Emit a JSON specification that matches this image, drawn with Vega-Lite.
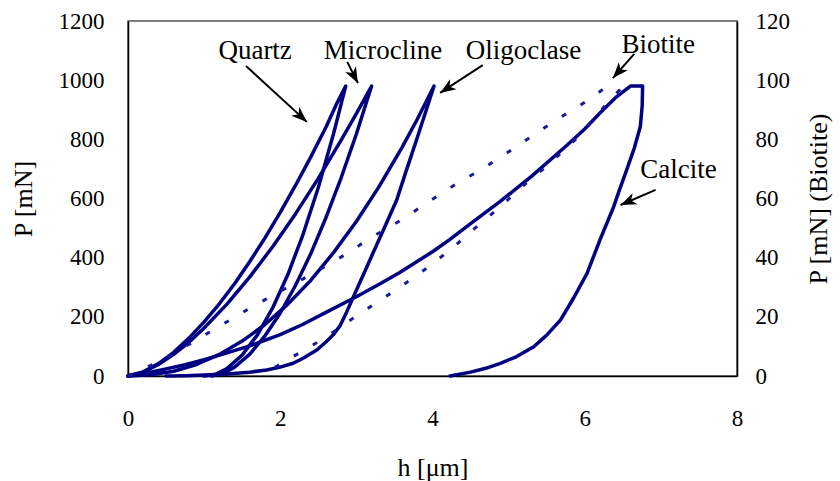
{
  "$schema": "https://vega.github.io/schema/vega-lite/v6.json",
  "width": 609,
  "height": 355,
  "autosize": {"type": "none"},
  "padding": {"left": 128, "top": 21, "right": 103, "bottom": 105},
  "background": "white",
  "config": {
    "font": "Liberation Serif",
    "view": {"stroke": "#555", "strokeWidth": 1.5},
    "axis": {
      "grid": false, "ticks": false, "domainColor": "#000", "domainWidth": 1.5,
      "labelFont": "Liberation Serif", "labelFontSize": 23, "labelColor": "#000",
      "titleFont": "Liberation Serif", "titleFontSize": 26, "titleFontWeight": "normal", "titleColor": "#000",
      "labelFlush": false, "labelOverlap": false, "format": "d"
    }
  },
  "datasets": {
    "curves": [
      {"s":"Quartz","i":0,"h":0,"P":0},{"s":"Quartz","i":1,"h":0.2,"P":14},{"s":"Quartz","i":2,"h":0.4,"P":42},{"s":"Quartz","i":3,"h":0.6,"P":80},{"s":"Quartz","i":4,"h":0.8,"P":128},{"s":"Quartz","i":5,"h":1.0,"P":183},{"s":"Quartz","i":6,"h":1.2,"P":244},{"s":"Quartz","i":7,"h":1.4,"P":312},{"s":"Quartz","i":8,"h":1.6,"P":387},{"s":"Quartz","i":9,"h":1.8,"P":467},{"s":"Quartz","i":10,"h":2.0,"P":553},{"s":"Quartz","i":11,"h":2.2,"P":644},{"s":"Quartz","i":12,"h":2.4,"P":740},{"s":"Quartz","i":13,"h":2.6,"P":841},{"s":"Quartz","i":14,"h":2.75,"P":925},{"s":"Quartz","i":15,"h":2.86,"P":980},
      {"s":"Quartz","i":16,"h":2.7,"P":819},{"s":"Quartz","i":17,"h":2.5,"P":637},{"s":"Quartz","i":18,"h":2.3,"P":479},{"s":"Quartz","i":19,"h":2.1,"P":343},{"s":"Quartz","i":20,"h":1.9,"P":230},{"s":"Quartz","i":21,"h":1.7,"P":139},{"s":"Quartz","i":22,"h":1.5,"P":71},{"s":"Quartz","i":23,"h":1.3,"P":25},{"s":"Quartz","i":24,"h":1.15,"P":6},{"s":"Quartz","i":25,"h":1.0,"P":0},
      {"s":"Microcline","i":0,"h":0,"P":0},{"s":"Microcline","i":1,"h":0.2,"P":13},{"s":"Microcline","i":2,"h":0.4,"P":39},{"s":"Microcline","i":3,"h":0.6,"P":73},{"s":"Microcline","i":4,"h":0.8,"P":114},{"s":"Microcline","i":5,"h":1.0,"P":162},{"s":"Microcline","i":6,"h":1.3,"P":243},{"s":"Microcline","i":7,"h":1.6,"P":335},{"s":"Microcline","i":8,"h":1.9,"P":437},{"s":"Microcline","i":9,"h":2.2,"P":548},{"s":"Microcline","i":10,"h":2.5,"P":668},{"s":"Microcline","i":11,"h":2.8,"P":797},{"s":"Microcline","i":12,"h":3.0,"P":887},{"s":"Microcline","i":13,"h":3.2,"P":980},
      {"s":"Microcline","i":14,"h":3.0,"P":818},{"s":"Microcline","i":15,"h":2.8,"P":670},{"s":"Microcline","i":16,"h":2.6,"P":535},{"s":"Microcline","i":17,"h":2.4,"P":413},{"s":"Microcline","i":18,"h":2.2,"P":306},{"s":"Microcline","i":19,"h":2.0,"P":213},{"s":"Microcline","i":20,"h":1.8,"P":136},{"s":"Microcline","i":21,"h":1.6,"P":74},{"s":"Microcline","i":22,"h":1.4,"P":30},{"s":"Microcline","i":23,"h":1.25,"P":9},{"s":"Microcline","i":24,"h":1.1,"P":0},
      {"s":"Oligoclase","i":0,"h":0,"P":0},{"s":"Oligoclase","i":1,"h":0.3,"P":4},{"s":"Oligoclase","i":2,"h":0.6,"P":16},{"s":"Oligoclase","i":3,"h":0.9,"P":39},{"s":"Oligoclase","i":4,"h":1.2,"P":73},{"s":"Oligoclase","i":5,"h":1.5,"P":118},{"s":"Oligoclase","i":6,"h":1.8,"P":174},{"s":"Oligoclase","i":7,"h":2.1,"P":243},{"s":"Oligoclase","i":8,"h":2.4,"P":323},{"s":"Oligoclase","i":9,"h":2.7,"P":417},{"s":"Oligoclase","i":10,"h":3.0,"P":522},{"s":"Oligoclase","i":11,"h":3.3,"P":641},{"s":"Oligoclase","i":12,"h":3.6,"P":773},{"s":"Oligoclase","i":13,"h":3.8,"P":868},{"s":"Oligoclase","i":14,"h":4.02,"P":980},
      {"s":"Oligoclase","i":15,"h":3.9,"P":885},{"s":"Oligoclase","i":16,"h":3.78,"P":790},{"s":"Oligoclase","i":17,"h":3.65,"P":690},{"s":"Oligoclase","i":18,"h":3.53,"P":595},{"s":"Oligoclase","i":19,"h":3.4,"P":520},{"s":"Oligoclase","i":20,"h":3.2,"P":405},{"s":"Oligoclase","i":21,"h":3.0,"P":290},{"s":"Oligoclase","i":22,"h":2.87,"P":215},{"s":"Oligoclase","i":23,"h":2.79,"P":172},{"s":"Oligoclase","i":24,"h":2.7,"P":140},{"s":"Oligoclase","i":25,"h":2.6,"P":115},{"s":"Oligoclase","i":26,"h":2.48,"P":88},{"s":"Oligoclase","i":27,"h":2.3,"P":60},{"s":"Oligoclase","i":28,"h":2.17,"P":43},{"s":"Oligoclase","i":29,"h":2.0,"P":30},{"s":"Oligoclase","i":30,"h":1.82,"P":20},{"s":"Oligoclase","i":31,"h":1.6,"P":13},{"s":"Oligoclase","i":32,"h":1.3,"P":7},{"s":"Oligoclase","i":33,"h":1.0,"P":3},{"s":"Oligoclase","i":34,"h":0.75,"P":1},{"s":"Oligoclase","i":35,"h":0.5,"P":0},
      {"s":"Calcite","i":0,"h":0,"P":0},{"s":"Calcite","i":1,"h":0.25,"P":10},{"s":"Calcite","i":2,"h":0.5,"P":24},{"s":"Calcite","i":3,"h":0.75,"P":38},{"s":"Calcite","i":4,"h":1.0,"P":55},{"s":"Calcite","i":5,"h":1.3,"P":78},{"s":"Calcite","i":6,"h":1.6,"P":102},{"s":"Calcite","i":7,"h":2.0,"P":140},{"s":"Calcite","i":8,"h":2.3,"P":175},{"s":"Calcite","i":9,"h":2.6,"P":215},{"s":"Calcite","i":10,"h":3.0,"P":268},{"s":"Calcite","i":11,"h":3.3,"P":310},{"s":"Calcite","i":12,"h":3.57,"P":350},{"s":"Calcite","i":13,"h":4.0,"P":420},{"s":"Calcite","i":14,"h":4.23,"P":462},{"s":"Calcite","i":15,"h":4.5,"P":515},{"s":"Calcite","i":16,"h":4.89,"P":590},{"s":"Calcite","i":17,"h":5.3,"P":675},{"s":"Calcite","i":18,"h":5.77,"P":781},{"s":"Calcite","i":19,"h":6.0,"P":835},{"s":"Calcite","i":20,"h":6.2,"P":889},{"s":"Calcite","i":21,"h":6.4,"P":940},{"s":"Calcite","i":22,"h":6.6,"P":980},{"s":"Calcite","i":23,"h":6.76,"P":980},
      {"s":"Calcite","i":24,"h":6.755,"P":915},{"s":"Calcite","i":25,"h":6.73,"P":843},{"s":"Calcite","i":26,"h":6.65,"P":770},{"s":"Calcite","i":27,"h":6.55,"P":696},{"s":"Calcite","i":28,"h":6.45,"P":625},{"s":"Calcite","i":29,"h":6.38,"P":572},{"s":"Calcite","i":30,"h":6.2,"P":460},{"s":"Calcite","i":31,"h":6.03,"P":347},{"s":"Calcite","i":32,"h":5.85,"P":262},{"s":"Calcite","i":33,"h":5.68,"P":189},{"s":"Calcite","i":34,"h":5.5,"P":138},{"s":"Calcite","i":35,"h":5.33,"P":99},{"s":"Calcite","i":36,"h":5.1,"P":65},{"s":"Calcite","i":37,"h":4.89,"P":43},{"s":"Calcite","i":38,"h":4.7,"P":26},{"s":"Calcite","i":39,"h":4.5,"P":13},{"s":"Calcite","i":40,"h":4.23,"P":0}
    ],
    "biotite": [
      {"i":0,"h":0,"P":0},{"i":1,"h":0.3,"P":3.6},{"i":2,"h":0.6,"P":7.6},{"i":3,"h":1.12,"P":15.6},{"i":4,"h":1.6,"P":22.9},{"i":5,"h":1.87,"P":26.8},{"i":6,"h":2.39,"P":34.1},{"i":7,"h":2.92,"P":42.0},{"i":8,"h":3.14,"P":46.0},{"i":9,"h":3.66,"P":53.8},{"i":10,"h":3.88,"P":57.8},{"i":11,"h":4.36,"P":65.7},{"i":12,"h":4.63,"P":69.6},{"i":13,"h":5.1,"P":77.5},{"i":14,"h":5.59,"P":86.0},{"i":15,"h":6.0,"P":92.5},{"i":16,"h":6.3,"P":98.0},
      {"i":17,"h":6.45,"P":96.5},{"i":18,"h":6.3,"P":92.5},{"i":19,"h":6.2,"P":89.3},{"i":20,"h":5.9,"P":80.5},{"i":21,"h":5.55,"P":72.0},{"i":22,"h":5.2,"P":64.5},{"i":23,"h":4.89,"P":57.2},{"i":24,"h":4.55,"P":49.8},{"i":25,"h":4.23,"P":42.6},{"i":26,"h":3.9,"P":36.0},{"i":27,"h":3.55,"P":29.6},{"i":28,"h":3.05,"P":21.2},{"i":29,"h":2.61,"P":13.3},{"i":30,"h":2.3,"P":8.5},{"i":31,"h":2.09,"P":5.4},{"i":32,"h":1.9,"P":2.5}
    ],
    "arrows": [
      {"name":"Quartz","h":2.35,"P":859,"hs":1.55,"Ps":1048},
      {"name":"Microcline","h":3.02,"P":990,"hs":2.88,"Ps":1062},
      {"name":"Oligoclase","h":4.10,"P":957,"hs":4.66,"Ps":1051},
      {"name":"Biotite","h":6.37,"P":1007,"hs":6.65,"Ps":1089},
      {"name":"Calcite","h":6.47,"P":578,"hs":6.93,"Ps":629}
    ],
    "labels": [
      {"name":"Quartz","h":1.67,"P":1072},
      {"name":"Microcline","h":3.35,"P":1072},
      {"name":"Oligoclase","h":5.195,"P":1072},
      {"name":"Biotite","h":6.965,"P":1092},
      {"name":"Calcite","h":7.23,"P":669}
    ],
    "hticks": [{"h":1},{"h":2},{"h":3},{"h":4},{"h":5},{"h":6},{"h":7}],
    "pticks": [{"P":100},{"P":200},{"P":300},{"P":400},{"P":500},{"P":600},{"P":700},{"P":800},{"P":900},{"P":1000},{"P":1100}]
  },
  "encoding": {
    "x": {
      "field": "h", "type": "quantitative",
      "scale": {"domain": [0, 8], "nice": false, "zero": false},
      "axis": {"values": [0,1,2,3,4,5,6,7,8], "labelExpr": "datum.value % 2 === 0 ? datum.label : ''", "title": "h [μm]", "labelPadding": 31, "titlePadding": 24}
    }
  },
  "layer": [
    {
      "encoding": {
        "y": {
          "field": "P", "type": "quantitative",
          "scale": {"domain": [0, 1200], "nice": false},
          "axis": {"orient": "left", "values": [0,100,200,300,400,500,600,700,800,900,1000,1100,1200], "labelExpr": "datum.value % 200 === 0 ? datum.label : ''", "title": "P [mN]", "labelPadding": 24, "titlePadding": 22}
        }
      },
      "layer": [
        {
          "data": {"name": "hticks"},
          "mark": {"type": "rule", "color": "#000", "strokeWidth": 1.8, "opacity": 1},
          "encoding": {"y": {"datum": 0}, "y2": {"datum": 27}}
        },
        {
          "data": {"name": "pticks"},
          "mark": {"type": "rule", "color": "#000", "strokeWidth": 1.8, "opacity": 1},
          "encoding": {"x": {"datum": 0}, "x2": {"datum": 0.105}}
        },
        {
          "data": {"name": "pticks"},
          "mark": {"type": "rule", "color": "#000", "strokeWidth": 1.8, "opacity": 1},
          "encoding": {"x": {"datum": 8}, "x2": {"datum": 7.895}}
        },
        {
          "data": {"name": "curves"},
          "mark": {"type": "line", "color": "#000080", "strokeWidth": 3.5, "strokeCap": "round", "strokeJoin": "round"},
          "encoding": {"detail": {"field": "s"}, "order": {"field": "i"}}
        },
        {
          "data": {"name": "arrows"},
          "mark": {"type": "rule", "color": "#000", "strokeWidth": 2},
          "encoding": {"x2": {"field": "hs"}, "y2": {"field": "Ps"}}
        },
        {
          "data": {"name": "arrows"},
          "transform": [{"filter": "datum.name === 'Quartz'"}],
          "mark": {"type": "point", "shape": "M0,0 L-0.38,1 L0,0.72 L0.38,1 Z", "size": 1000, "filled": true, "color": "#000", "opacity": 1, "angle": 132.5}
        },
        {
          "data": {"name": "arrows"},
          "transform": [{"filter": "datum.name === 'Microcline'"}],
          "mark": {"type": "point", "shape": "M0,0 L-0.38,1 L0,0.72 L0.38,1 Z", "size": 1000, "filled": true, "color": "#000", "opacity": 1, "angle": 152.4}
        },
        {
          "data": {"name": "arrows"},
          "transform": [{"filter": "datum.name === 'Oligoclase'"}],
          "mark": {"type": "point", "shape": "M0,0 L-0.38,1 L0,0.72 L0.38,1 Z", "size": 1000, "filled": true, "color": "#000", "opacity": 1, "angle": 236.9}
        },
        {
          "data": {"name": "arrows"},
          "transform": [{"filter": "datum.name === 'Biotite'"}],
          "mark": {"type": "point", "shape": "M0,0 L-0.38,1 L0,0.72 L0.38,1 Z", "size": 1000, "filled": true, "color": "#000", "opacity": 1, "angle": 221.2}
        },
        {
          "data": {"name": "arrows"},
          "transform": [{"filter": "datum.name === 'Calcite'"}],
          "mark": {"type": "point", "shape": "M0,0 L-0.38,1 L0,0.72 L0.38,1 Z", "size": 1000, "filled": true, "color": "#000", "opacity": 1, "angle": 246.8}
        },
        {
          "data": {"name": "labels"},
          "mark": {"type": "text", "font": "Liberation Serif", "fontSize": 27, "color": "#000", "align": "center", "baseline": "alphabetic"},
          "encoding": {"text": {"field": "name"}}
        }
      ]
    },
    {
      "data": {"name": "biotite"},
      "mark": {"type": "line", "color": "#1a1a99", "strokeWidth": 3, "strokeDash": [5, 17]},
      "encoding": {
        "y": {
          "field": "P", "type": "quantitative",
          "scale": {"domain": [0, 120], "nice": false},
          "axis": {"orient": "right", "values": [0,10,20,30,40,50,60,70,80,90,100,110,120], "labelExpr": "datum.value % 20 === 0 ? datum.label : ''", "title": "P [mN] (Biotite)", "labelPadding": 18, "titlePadding": 42, "titleAngle": -90}
        },
        "order": {"field": "i"}
      }
    }
  ],
  "resolve": {"scale": {"y": "independent"}}
}
